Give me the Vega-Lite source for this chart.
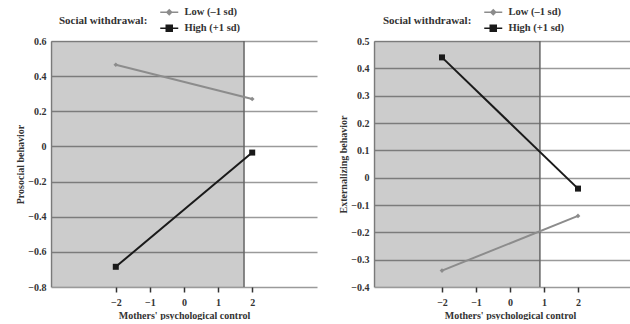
{
  "$schema": "https://vega.github.io/schema/vega-lite/v6.json",
  "background": "white",
  "padding": {"left": 15, "top": 7, "right": 0, "bottom": 0},
  "bounds": "flush",
  "spacing": 57,
  "datasets": {
    "prosocial": [
      {"control": -2, "value": 0.465, "group": "Low (–1 sd)"},
      {"control": 2, "value": 0.27, "group": "Low (–1 sd)"},
      {"control": -2, "value": -0.685, "group": "High (+1 sd)"},
      {"control": 2, "value": -0.035, "group": "High (+1 sd)"}
    ],
    "prosocialRegion": [{"lo": -3.9, "hi": 1.76, "ymin": -0.8, "ymax": 0.6}],
    "externalizing": [
      {"control": -2, "value": -0.34, "group": "Low (–1 sd)"},
      {"control": 2, "value": -0.14, "group": "Low (–1 sd)"},
      {"control": -2, "value": 0.44, "group": "High (+1 sd)"},
      {"control": 2, "value": -0.04, "group": "High (+1 sd)"}
    ],
    "externalizingRegion": [{"lo": -4, "hi": 0.88, "ymin": -0.4, "ymax": 0.5}]
  },
  "config": {
    "font": "Liberation Serif",
    "view": {"stroke": null},
    "axis": {
      "labelFont": "Liberation Serif", "labelFontWeight": "bold", "labelFontSize": 10, "labelColor": "#333",
      "titleFont": "Liberation Serif", "titleFontWeight": "bold", "titleFontSize": 10, "titleColor": "#333"
    },
    "legend": {
      "labelFont": "Liberation Serif", "labelFontWeight": "bold", "labelFontSize": 10.5, "labelColor": "#333",
      "titleFont": "Liberation Serif", "titleFontWeight": "bold", "titleFontSize": 11, "titleColor": "#333"
    }
  },
  "resolve": {"scale": {"color": "independent", "x": "independent", "y": "independent"}, "legend": {"color": "independent"}},
  "hconcat": [
    {
      "width": 266, "height": 246,
      "layer": [
        {
          "data": {"name": "prosocialRegion"},
          "mark": {"type": "rect", "color": "#000", "opacity": 0.2},
          "encoding": {
            "x": {"field": "lo", "type": "quantitative", "scale": {"domain": [-3.9, 3.9], "nice": false, "zero": false},
              "axis": {"values": [-2, -1, 0, 1, 2], "format": "d", "tickCount": 20, "grid": false, "domain": false, "ticks": true, "tickColor": "#333", "tickSize": 5, "tickWidth": 1.5, "labelPadding": 5, "title": "Mothers' psychological control", "titlePadding": 3}},
            "x2": {"field": "hi"},
            "y": {"field": "ymin", "type": "quantitative", "scale": {"domain": [-0.8, 0.6], "nice": false, "zero": false},
              "axis": {"values": [-0.8, -0.6, -0.4, -0.2, 0, 0.2, 0.4, 0.6], "tickCount": 20, "labelOverlap": false, "format": ".1~f", "grid": true, "gridColor": "#9a9a9a", "gridWidth": 1.5, "domain": true, "domainColor": "#999", "domainWidth": 1.5, "ticks": false, "labelPadding": 5, "title": "Prosocial behavior", "titlePadding": 2}},
            "y2": {"field": "ymax"}
          }
        },
        {
          "data": {"name": "prosocialRegion"},
          "mark": {"type": "rule", "color": "#666", "strokeWidth": 1.5},
          "encoding": {
            "x": {"field": "hi", "type": "quantitative"},
            "y": {"field": "ymin", "type": "quantitative"},
            "y2": {"field": "ymax"}
          }
        },
        {
          "data": {"name": "prosocial"},
          "mark": {"type": "line", "strokeWidth": 2},
          "encoding": {
            "x": {"field": "control", "type": "quantitative"},
            "y": {"field": "value", "type": "quantitative"},
            "color": {"field": "group", "type": "nominal", "scale": {"domain": ["Low (–1 sd)", "High (+1 sd)"], "range": ["#8c8c8c", "#1a1a1a"]},
              "legend": {"orient": "none", "legendX": 8, "legendY": -34, "title": "Social withdrawal:", "titleOrient": "left", "titlePadding": 16, "rowPadding": 4, "symbolSize": 36, "labelOffset": 10,
                "encode": {"symbols": {"update": {
                  "shape": {"signal": "datum.value === 'High (+1 sd)' ? 'M-3,0H3M-1,-1H1V1H-1Z' : 'M-3,0H3M0,-0.8L0.8,0L0,0.8L-0.8,0Z'"},
                  "stroke": {"signal": "datum.value === 'High (+1 sd)' ? '#1a1a1a' : '#8c8c8c'"},
                  "fill": {"signal": "datum.value === 'High (+1 sd)' ? '#1a1a1a' : '#8c8c8c'"},
                  "strokeWidth": {"value": 1.5}
                }}}}}
          }
        },
        {
          "data": {"name": "prosocial"},
          "mark": {"type": "point", "filled": true, "opacity": 1},
          "encoding": {
            "x": {"field": "control", "type": "quantitative"},
            "y": {"field": "value", "type": "quantitative"},
            "size": {"condition": {"test": "datum.group === 'High (+1 sd)'", "value": 36}, "value": 22},
            "color": {"field": "group", "type": "nominal"},
            "shape": {"condition": {"test": "datum.group === 'High (+1 sd)'", "value": "square"}, "value": "diamond"}
          }
        }
      ]
    },
    {
      "width": 272, "height": 246,
      "layer": [
        {
          "data": {"name": "externalizingRegion"},
          "mark": {"type": "rect", "color": "#000", "opacity": 0.2},
          "encoding": {
            "x": {"field": "lo", "type": "quantitative", "scale": {"domain": [-4, 4], "nice": false, "zero": false},
              "axis": {"values": [-2, -1, 0, 1, 2], "format": "d", "tickCount": 20, "grid": false, "domain": false, "ticks": true, "tickColor": "#333", "tickSize": 5, "tickWidth": 1.5, "labelPadding": 5, "title": "Mothers' psychological control", "titlePadding": 3}},
            "x2": {"field": "hi"},
            "y": {"field": "ymin", "type": "quantitative", "scale": {"domain": [-0.4, 0.5], "nice": false, "zero": false},
              "axis": {"values": [-0.4, -0.3, -0.2, -0.1, 0, 0.1, 0.2, 0.3, 0.4, 0.5], "tickCount": 20, "labelOverlap": false, "format": ".1~f", "grid": true, "gridColor": "#9a9a9a", "gridWidth": 1.5, "domain": true, "domainColor": "#999", "domainWidth": 1.5, "ticks": false, "labelPadding": 5, "title": "Externalizing behavior", "titlePadding": 2}},
            "y2": {"field": "ymax"}
          }
        },
        {
          "data": {"name": "externalizingRegion"},
          "mark": {"type": "rule", "color": "#666", "strokeWidth": 1.5},
          "encoding": {
            "x": {"field": "hi", "type": "quantitative"},
            "y": {"field": "ymin", "type": "quantitative"},
            "y2": {"field": "ymax"}
          }
        },
        {
          "data": {"name": "externalizing"},
          "mark": {"type": "line", "strokeWidth": 2},
          "encoding": {
            "x": {"field": "control", "type": "quantitative"},
            "y": {"field": "value", "type": "quantitative"},
            "color": {"field": "group", "type": "nominal", "scale": {"domain": ["Low (–1 sd)", "High (+1 sd)"], "range": ["#8c8c8c", "#1a1a1a"]},
              "legend": {"orient": "none", "legendX": 9, "legendY": -34, "title": "Social withdrawal:", "titleOrient": "left", "titlePadding": 16, "rowPadding": 4, "symbolSize": 36, "labelOffset": 10,
                "encode": {"symbols": {"update": {
                  "shape": {"signal": "datum.value === 'High (+1 sd)' ? 'M-3,0H3M-1,-1H1V1H-1Z' : 'M-3,0H3M0,-0.8L0.8,0L0,0.8L-0.8,0Z'"},
                  "stroke": {"signal": "datum.value === 'High (+1 sd)' ? '#1a1a1a' : '#8c8c8c'"},
                  "fill": {"signal": "datum.value === 'High (+1 sd)' ? '#1a1a1a' : '#8c8c8c'"},
                  "strokeWidth": {"value": 1.5}
                }}}}}
          }
        },
        {
          "data": {"name": "externalizing"},
          "mark": {"type": "point", "filled": true, "opacity": 1},
          "encoding": {
            "x": {"field": "control", "type": "quantitative"},
            "y": {"field": "value", "type": "quantitative"},
            "size": {"condition": {"test": "datum.group === 'High (+1 sd)'", "value": 36}, "value": 22},
            "color": {"field": "group", "type": "nominal"},
            "shape": {"condition": {"test": "datum.group === 'High (+1 sd)'", "value": "square"}, "value": "diamond"}
          }
        }
      ]
    }
  ]
}
